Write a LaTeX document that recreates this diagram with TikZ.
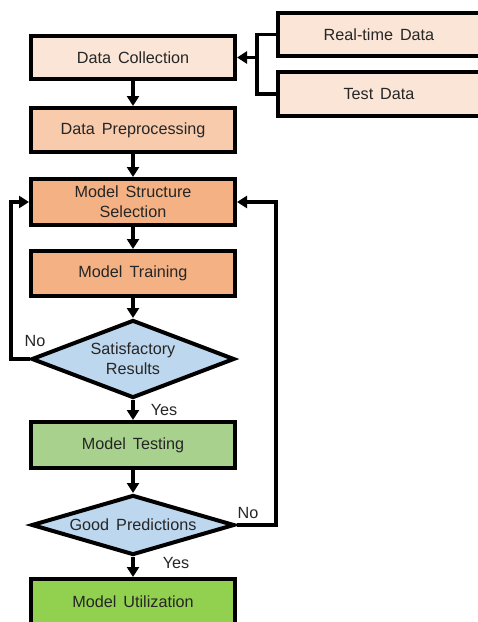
\documentclass[tikz,border=0pt]{standalone}
\usepackage{fontspec}
\setmainfont{Liberation Sans}
\usetikzlibrary{shapes.geometric,arrows.meta}
\definecolor{peach1}{HTML}{FBE5D6}
\definecolor{peach2}{HTML}{F8CBAD}
\definecolor{peach3}{HTML}{F4B183}
\definecolor{blue1}{HTML}{BDD7EE}
\definecolor{green1}{HTML}{A9D18E}
\definecolor{green2}{HTML}{92D050}
\definecolor{txt}{HTML}{262626}
\newcommand{\diafont}{\fontsize{16.2pt}{20pt}\selectfont\spaceskip=7pt\relax}
\tikzset{
  box/.style={draw=black, line width=4pt, rectangle, inner sep=0pt, minimum width=204pt,
    text=txt, font=\diafont, align=center},
  dia/.style={draw=black, line width=4pt, diamond, inner sep=0pt, minimum width=203pt,
    text=txt, font=\diafont, align=center, aspect=3},
  conn/.style={draw=black, line width=3.2pt},
  arr/.style={conn, -{Triangle[length=10pt,width=12pt]}},
  lbl/.style={text=txt, font=\diafont, inner sep=0pt}
}
\begin{document}
\begin{tikzpicture}[x=1pt,y=-1pt]
\useasboundingbox (0,0) rectangle (478,622);
\clip (0,0) rectangle (478,622);
\fill[white] (0,0) rectangle (478,622);
\node[box, fill=peach1, minimum height=43pt] (dc) at (133,57.5) {Data Collection};
\node[box, fill=peach1, minimum width=220pt, minimum height=43pt] (rt) at (388,34.5) {};
\node[lbl] (rtl) at (379,34.5) {Real-time Data};
\node[box, fill=peach1, minimum width=220pt, minimum height=44pt] (td) at (388,94) {};
\node[lbl] (tdl) at (379,94) {Test Data};
\node[box, fill=peach2, minimum height=44pt] (dp) at (133,130) {Data Preprocessing};
\node[box, fill=peach3, minimum height=46pt] (mss) at (133,202) {Model Structure\\Selection};
\node[box, fill=peach3, minimum height=45pt] (mt) at (133,273.5) {Model Training};
\node[dia, fill=blue1, minimum height=78pt, aspect=2.6] (sat) at (133,359) {Satisfactory\\Results};
\node[box, fill=green1, minimum height=46pt] (test) at (133,445) {Model Testing};
\node[dia, fill=blue1, minimum height=60pt, aspect=3.4] (good) at (133,525) {Good Predictions};
\node[box, fill=green2, minimum height=60pt] (util) at (133,609) {};
\node[lbl] (utill) at (133,602) {Model Utilization};

\coordinate (j) at (257,57.5);
\draw[conn] (rt.west) -| (j) |- (td.west);
\draw[arr] (j) -- (dc.east);
\draw[arr] (dc.south) -- (dp.north);
\draw[arr] (dp.south) -- (mss.north);
\draw[arr] (mss.south) -- (mt.north);
\draw[arr] (mt.south) -- (sat.north);
\draw[arr] (sat.south) -- (test.north);
\draw[arr] (test.south) -- (good.north);
\draw[arr] (good.south) -- (util.north);
\coordinate (ll) at (11,359);
\coordinate (rl) at (276,525);
\draw[arr] (sat.west) -- (ll) |- (mss.west);
\draw[arr] (good.east) -- (rl) |- (mss.east);

\node[lbl] (no1) at (35,341) {No};
\node[lbl] (yes1) at (164,410) {Yes};
\node[lbl] (no2) at (248,513) {No};
\node[lbl] (yes2) at (176,563) {Yes};
\end{tikzpicture}
\end{document}
